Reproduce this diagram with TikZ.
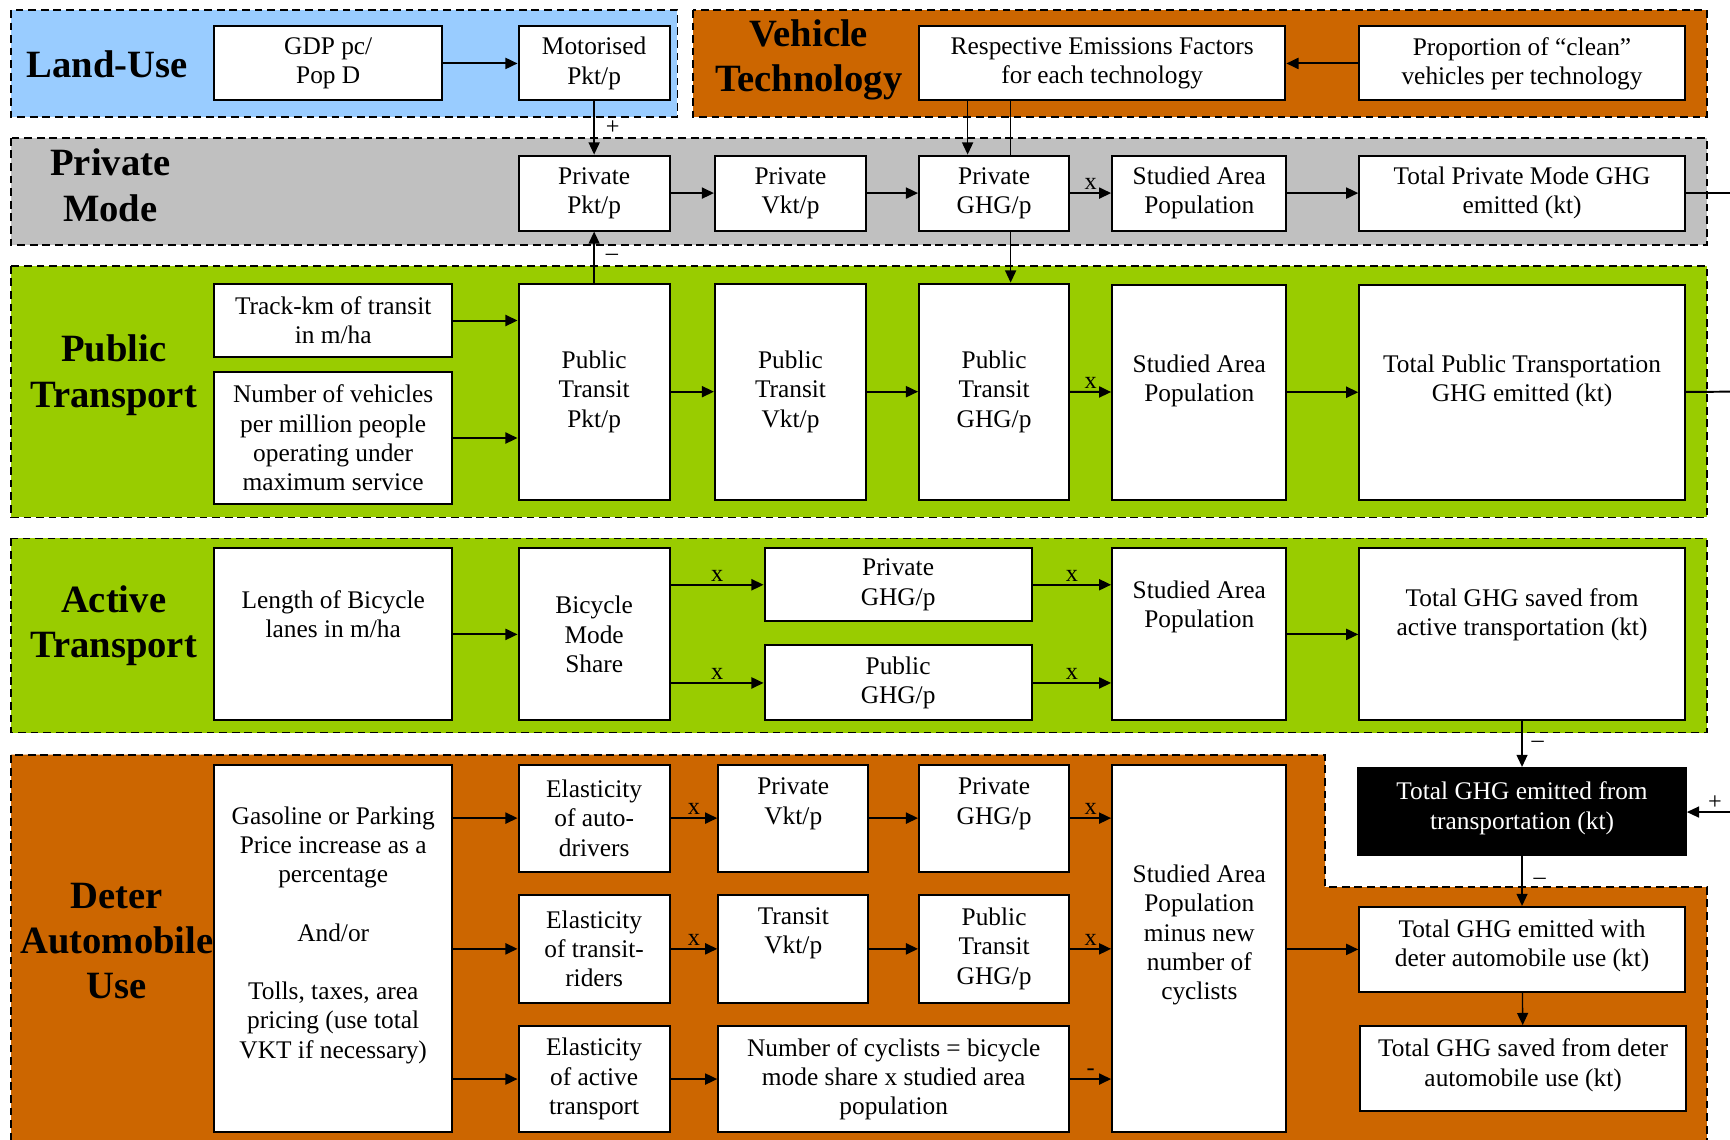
\documentclass[tikz,border=0pt]{standalone}
\usepackage{fontspec}
\setmainfont{Liberation Serif}
\usetikzlibrary{arrows.meta, fit}

\definecolor{landblue}{HTML}{99CCFF}
\definecolor{techorange}{HTML}{CC6600}
\definecolor{modegray}{HTML}{C0C0C0}
\definecolor{transgreen}{HTML}{99CC00}

\begin{document}
\begin{tikzpicture}[x=0.5pt, y=-0.5pt,
  zone/.style = {draw, line width=0.8pt, dash pattern=on 3.5pt off 2.2pt},
  box/.style = {draw, fill=white, line width=0.9pt, inner sep=0pt},
  txt/.style = {align=center, font=\fontsize{11.5}{13.25}\selectfont},
  say/.style = {label={[txt]center:#1}},
  title/.style = {align=center, font=\fontsize{17.5}{20.5}\selectfont\bfseries},
  flow/.style = {-{Triangle[length=5.5pt, width=5pt]}, line width=0.9pt},
  link/.style = {-{Triangle[length=5.5pt, width=5pt]}, line width=0.6pt},
  sign/.style = {inner sep=1pt, font=\fontsize{11}{12}\selectfont}]
\useasboundingbox (0,0) rectangle (1568,1033);
\clip (0,0) rectangle (1568,1033);

\draw[zone, fill=landblue] (10,9) rectangle (614,106);
\draw[zone, fill=techorange] (628,9) rectangle (1547,106);
\draw[zone, fill=modegray] (10,125) rectangle (1547,222);
\draw[zone, fill=transgreen] (10,241) rectangle (1547,469);
\draw[zone, fill=transgreen] (10,488) rectangle (1547,664);
\draw[zone, fill=techorange] (10,1045) -- (10,684) -- (1201,684) -- (1201,804) -- (1547,804) -- (1547,1045);

\node[title] (tland) at (97,58) {Land-Use};
\node[title] (ttech) at (733,54) {Vehicle\\Technology};
\node[title] (tpriv) at (100,168) {Private\\Mode};
\node[title] (tpub) at (103,340) {Public\\Transport};
\node[title] (tact) at (103,567) {Active\\Transport};
\node[title] (tdeter) at (106,853) {Deter\\Automobile\\Use};

\node[box, fit={(194,24) (401,91)}, say={GDP pc/\\Pop D}] (gdp) {};
\node[box, fit={(470,24) (607,91)}, say={Motorised\\Pkt/p}] (motor) {};
\node[box, fit={(833,24) (1165,91)}, say={Respective Emissions Factors\\for each technology}] (resp) {};
\node[box, fit={(1232,24) (1527,91)}, say={Proportion of “clean”\\vehicles per technology}] (clean) {};

\node[box, fit={(470,141) (607,209)}, say={Private\\Pkt/p}] (ppkt) {};
\node[box, fit={(648,141) (785,209)}, say={Private\\Vkt/p}] (pvkt) {};
\node[box, fit={(833,141) (969,209)}, say={Private\\GHG/p}] (pghg) {};
\node[box, fit={(1008,141) (1166,209)}, say={Studied Area\\Population}] (pop1) {};
\node[box, fit={(1232,141) (1527,209)}, say={Total Private Mode GHG\\emitted (kt)}] (totpriv) {};

\node[box, fit={(194,257) (410,324)}, say={Track-km of transit\\in m/ha}] (track) {};
\node[box, fit={(194,337) (410,457)}, say={Number of vehicles\\per million people\\operating under\\maximum service}] (nveh) {};
\node[box, fit={(470,257) (607,453)}, say={Public\\Transit\\Pkt/p}] (tpkt) {};
\node[box, fit={(648,257) (785,453)}, say={Public\\Transit\\Vkt/p}] (tvkt) {};
\node[box, fit={(833,257) (969,453)}, say={Public\\Transit\\GHG/p}] (tghg) {};
\node[box, fit={(1008,258) (1166,453)},
      label={[txt, yshift=5pt]center:Studied Area\\Population}] (pop2) {};
\node[box, fit={(1232,258) (1527,453)},
      label={[txt, yshift=5pt]center:Total Public Transportation\\GHG emitted (kt)}] (totpub) {};

\node[box, fit={(194,497) (410,653)},
      label={[txt, yshift=9pt]center:Length of Bicycle\\lanes in m/ha}] (lanes) {};
\node[box, fit={(470,497) (607,653)}, say={Bicycle\\Mode\\Share}] (bshare) {};
\node[box, fit={(693,497) (935,563)}, say={Private\\GHG/p}] (aprivghg) {};
\node[box, fit={(693,585) (935,653)}, say={Public\\GHG/p}] (apubghg) {};
\node[box, fit={(1008,497) (1166,653)},
      label={[txt, yshift=12.5pt]center:Studied Area\\Population}] (pop3) {};
\node[box, fit={(1232,497) (1527,653)},
      label={[txt, yshift=9pt]center:Total GHG saved from\\active transportation (kt)}] (totact) {};

\node[box, fill=black, fit={(1231,696) (1528,775)},
      label={[txt, text=white, yshift=1.5pt]center:Total GHG emitted from\\transportation (kt)}] (totghg) {};

\node[box, fit={(194,693) (410,1026)},
      label={[txt, yshift=6pt]center:Gasoline or Parking\\Price increase as a\\percentage\\[13.25pt]And/or\\[13.25pt]Tolls, taxes, area\\pricing (use total\\VKT if necessary)}] (price) {};
\node[box, fit={(470,693) (607,790)}, say={Elasticity\\of auto-\\drivers}] (elauto) {};
\node[box, fit={(470,811) (607,909)}, say={Elasticity\\of transit-\\riders}] (eltransit) {};
\node[box, fit={(470,930) (607,1026)}, say={Elasticity\\of active\\transport}] (elactive) {};
\node[box, fit={(651,693) (787,790)},
      label={[txt, yshift=6.5pt]center:Private\\Vkt/p}] (dvkt) {};
\node[box, fit={(651,811) (787,909)},
      label={[txt, yshift=7pt]center:Transit\\Vkt/p}] (dtvkt) {};
\node[box, fit={(651,930) (969,1026)}, say={Number of cyclists = bicycle\\mode share x studied area\\population}] (ncyc) {};
\node[box, fit={(833,693) (969,790)},
      label={[txt, yshift=6.5pt]center:Private\\GHG/p}] (dpghg) {};
\node[box, fit={(833,811) (969,909)}, say={Public\\Transit\\GHG/p}] (dtghg) {};
\node[box, fit={(1008,693) (1166,1026)},
      label={[txt, yshift=6pt]center:Studied Area\\Population\\minus new\\number of\\cyclists}] (pop4) {};
\node[box, fit={(1232,822) (1527,899)},
      label={[txt, yshift=1.5pt]center:Total GHG emitted with\\deter automobile use (kt)}] (totdeter) {};
\node[box, fit={(1233,930) (1528,1007)},
      label={[txt, yshift=1.5pt]center:Total GHG saved from deter\\automobile use (kt)}] (saved) {};

\coordinate (edge1) at (1580,175);
\coordinate (edge2) at (1580,355);
\coordinate (edge3) at (1580,736);

\draw[flow] (gdp) -- (motor);
\draw[flow] (clean) -- (resp);
\draw[link] (motor) -- node[sign, right=4pt] (s1) {+} (ppkt);
\draw[link] (tpkt) -- node[sign, right=4pt] (s2) {\textendash} (ppkt);
\draw[link] ([xshift=-12pt]pghg.north |- resp.south) -- ([xshift=-12pt]pghg.north);
\draw[line width=0.6pt] ([xshift=7.5pt]pghg.north |- resp.south) -- ([xshift=7.5pt]pghg.north);
\draw[link] ([xshift=7.5pt]pghg.south) -- ([xshift=7.5pt]tghg.north);

\draw[flow] (ppkt) -- (pvkt);
\draw[flow] (pvkt) -- (pghg);
\draw[flow] (pghg) -- node[sign, above] (s3) {x} (pop1);
\draw[flow] (pop1) -- (totpriv);
\draw[line width=0.9pt] (totpriv) -- (edge1);

\draw[flow] (track.east) -- (track.east -| tpkt.west);
\draw[flow] (nveh.east) -- (nveh.east -| tpkt.west);
\draw[flow] (tpkt) -- (tvkt);
\draw[flow] (tvkt) -- (tghg);
\draw[flow] (tghg) -- node[sign, above] (s4) {x} (pop2);
\draw[flow] (pop2) -- (totpub);
\draw[line width=0.9pt] (totpub) -- (edge2);

\draw[flow] (lanes) -- (bshare);
\draw[flow] (bshare.east |- aprivghg) -- node[sign, above] (s5) {x} (aprivghg);
\draw[flow] (bshare.east |- apubghg) -- node[sign, above] (s6) {x} (apubghg);
\draw[flow] (aprivghg) -- node[sign, above] (s7) {x} (aprivghg -| pop3.west);
\draw[flow] (apubghg) -- node[sign, above] (s8) {x} (apubghg -| pop3.west);
\draw[flow] (pop3) -- (totact);

\draw[link] (totact) -- node[sign, right=3pt] (s9) {\textendash} (totghg);
\draw[link] (edge3) -- node[sign, above] (s10) {+} (edge3 -| totghg.east);
\draw[link] (totghg) -- node[sign, right=4pt] (s11) {\textendash} (totdeter);
\draw[link] (totdeter) -- (saved);

\draw[flow] (price.east |- elauto) -- (elauto);
\draw[flow] (price.east |- eltransit) -- (eltransit);
\draw[flow] (price.east |- elactive) -- (elactive);
\draw[flow] (elauto) -- node[sign, above] (s12) {x} (dvkt);
\draw[flow] (eltransit) -- node[sign, above] (s13) {x} (dtvkt);
\draw[flow] (elactive) -- (ncyc);
\draw[flow] (dvkt) -- (dpghg);
\draw[flow] (dtvkt) -- (dtghg);
\draw[flow] (dpghg) -- node[sign, above] (s14) {x} (dpghg -| pop4.west);
\draw[flow] (dtghg) -- node[sign, above] (s15) {x} (dtghg -| pop4.west);
\draw[flow] (ncyc) -- node[sign, above] (s16) {-} (ncyc -| pop4.west);
\draw[flow] (pop4.east |- totdeter) -- (totdeter);
\end{tikzpicture}
\end{document}
